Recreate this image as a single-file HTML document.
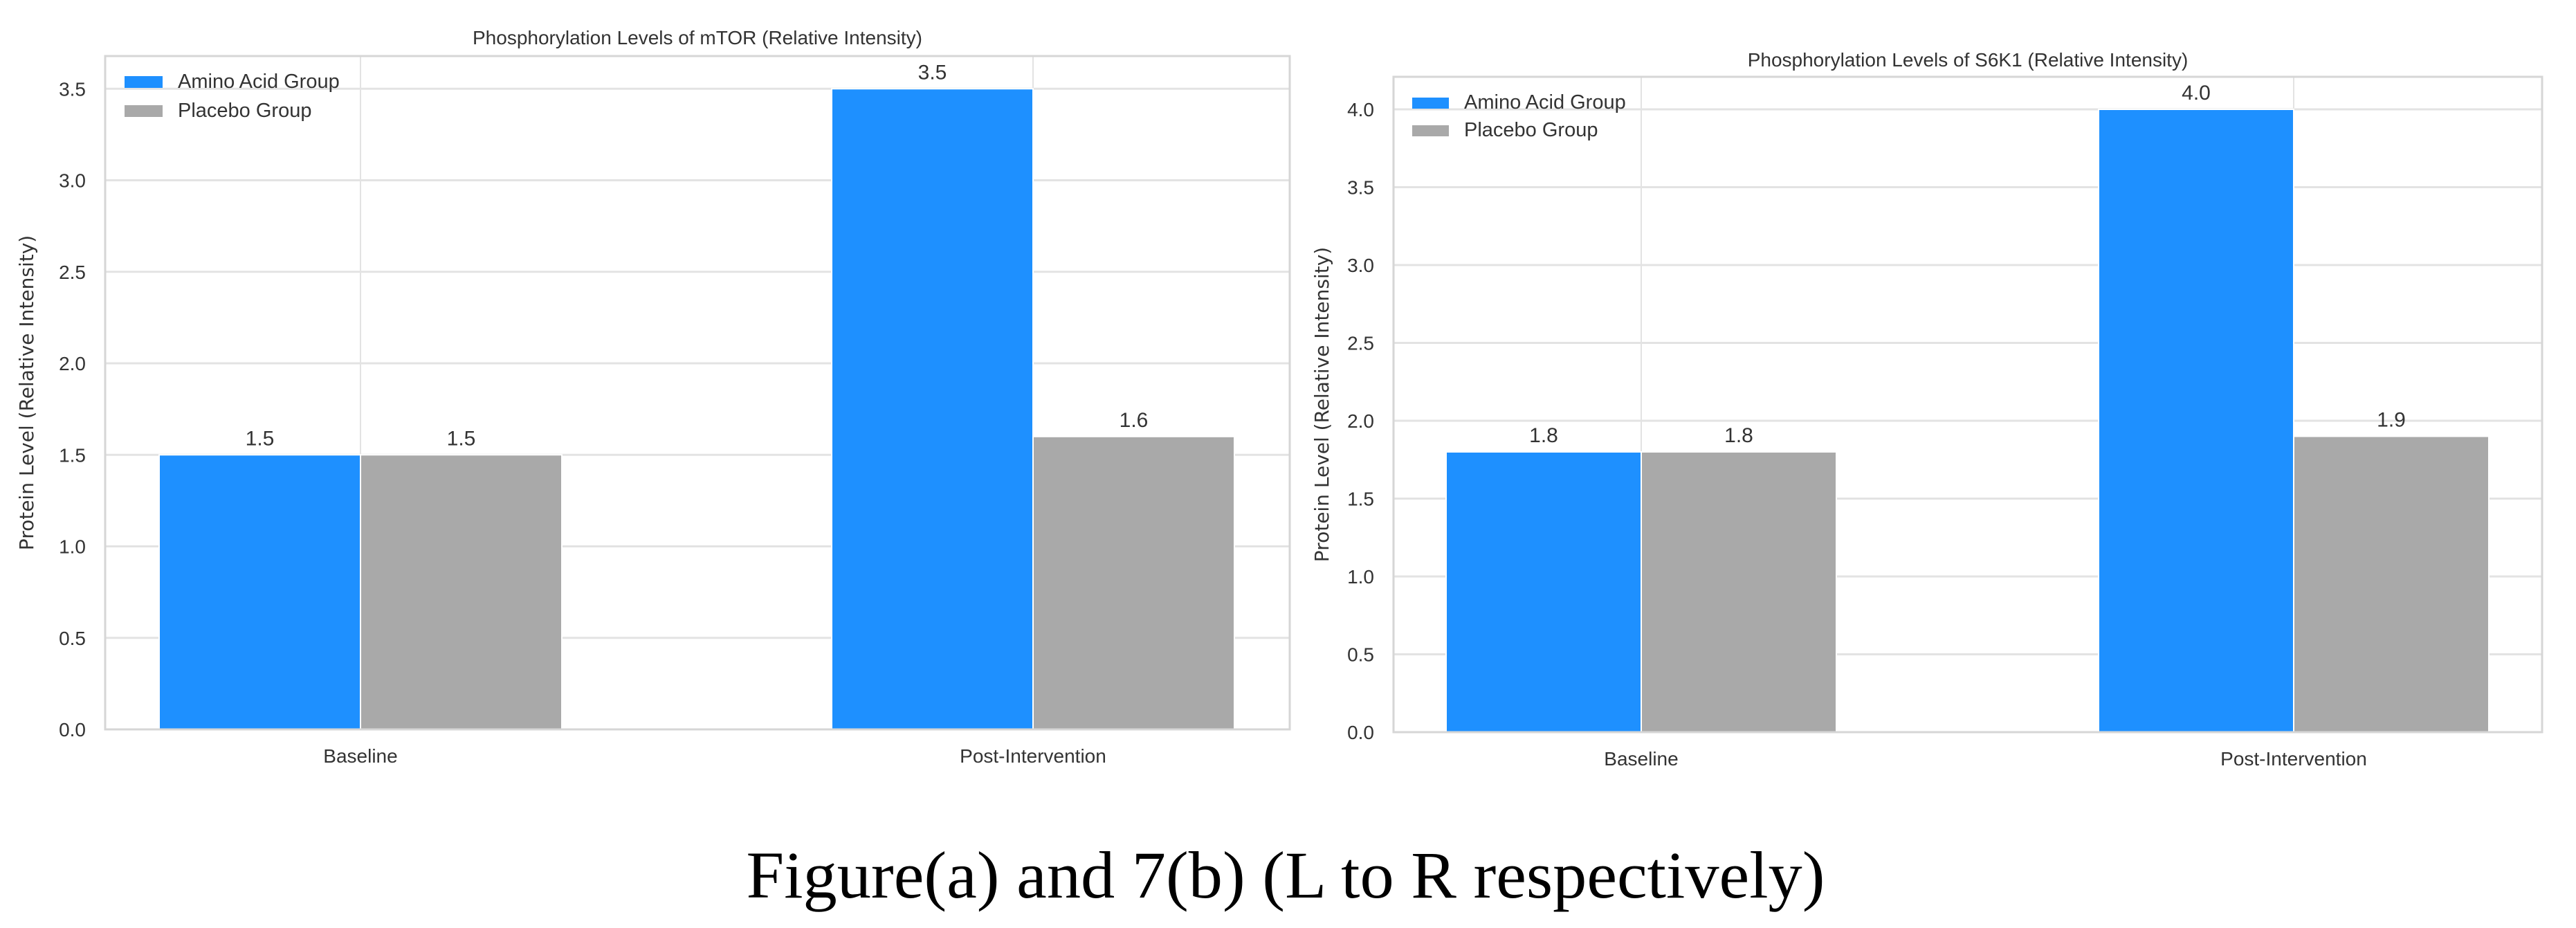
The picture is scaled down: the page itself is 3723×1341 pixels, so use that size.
<!DOCTYPE html>
<html><head><meta charset="utf-8"><style>
body{margin:0;background:#fff;}
svg{display:block;}
text{font-family:"Liberation Sans","DejaVu Sans",sans-serif;fill:#333;}
</style></head><body>
<svg id="fig" width="3723" height="1341" viewBox="0 0 3723 1341" xmlns="http://www.w3.org/2000/svg">
<text x="1858" y="1297" font-size="96" text-anchor="middle" textLength="1559" lengthAdjust="spacingAndGlyphs" style="font-family:'Liberation Serif',serif;fill:#000">Figure(a) and 7(b) (L to R respectively)</text>
</svg>
<script>
const categories = ["Baseline", "Post-Intervention"];
const seriesNames = ["Amino Acid Group", "Placebo Group"];
const mtorAmino = [1.5, 3.5];
const mtorPlacebo = [1.5, 1.6];
const s6k1Amino = [1.8, 4.0];
const s6k1Placebo = [1.8, 1.9];
const mtorTicks = [0.0, 0.5, 1.0, 1.5, 2.0, 2.5, 3.0, 3.5];
const s6k1Ticks = [0.0, 0.5, 1.0, 1.5, 2.0, 2.5, 3.0, 3.5, 4.0];
const colors = ["#1e90ff", "#a9a9a9"];

const NS = "http://www.w3.org/2000/svg";
const svg = document.getElementById('fig');
function mk(tag, attrs, parent) {
  const e = document.createElementNS(NS, tag);
  for (const k in attrs) e.setAttribute(k, attrs[k]);
  (parent || svg).appendChild(e);
  return e;
}

function chart(cfg, amino, placebo, ticks) {
  const g = mk('g', {});
  
  
  const {L, R, T, y0, unit, c0, c1, bw} = cfg;
  const y = v => y0 - v * unit;
  const centers = [c0, c1];
  const x = i => centers[i];
  // grid
  ticks.forEach(t => {
    const ln = mk('line', {x1: L, x2: R, y1: y(t), y2: y(t), stroke: '#e3e3e3', 'stroke-width': 3}, g);
    
    
    const tx = mk('text', {x: L - 28, y: y(t) + 10, 'font-size': 28, 'text-anchor': 'end'}, g);
    tx.textContent = t.toFixed(1);
    
    
  });
  categories.forEach((c, i) => {
    const ln = mk('line', {x1: x(i), x2: x(i), y1: T, y2: y0, stroke: '#e3e3e3', 'stroke-width': 2}, g);
    
    
    const tx = mk('text', {x: x(i), y: y0 + 48, 'font-size': 28, 'text-anchor': 'middle'}, g);
    tx.textContent = c;
    
    
  });
  // bars
  [amino, placebo].forEach((vals, s) => {
    vals.forEach((v, i) => {
      const bx = s === 0 ? x(i) - bw : x(i);
      const r = mk('rect', {x: bx, y: y(v), width: bw, height: y0 - y(v), fill: colors[s], stroke: '#fff', 'stroke-width': 2}, g);
      
      
      const lb = mk('text', {x: bx + bw / 2, y: y(v) - 14, 'font-size': 30, 'text-anchor': 'middle'}, g);
      lb.textContent = v.toFixed(1);
      
      
    });
  });
  // frame
  const fr = mk('rect', {x: L, y: T, width: R - L, height: y0 - T, fill: 'none', stroke: '#d6d6d6', 'stroke-width': 3}, g);
  
  
  // title
  const tt = mk('text', {x: (L + R) / 2, y: cfg.titleY, 'font-size': 28, 'text-anchor': 'middle'}, g);
  tt.textContent = cfg.title;
  
  
  // y label
  const yl = mk('text', {x: 0, y: 0, 'font-size': 28, 'text-anchor': 'middle', transform: `translate(${cfg.ylx},${(T + y0) / 2}) rotate(-90)`, style: "font-family:'DejaVu Sans',sans-serif;fill:#333"}, g);
  yl.textContent = 'Protein Level (Relative Intensity)';
  
  
  // legend
  seriesNames.forEach((n, s) => {
    const ly = cfg.legY + s * cfg.legGap;
    const p = mk('rect', {x: cfg.legX, y: ly, width: cfg.legW, height: cfg.legH, fill: colors[s]}, g);
    
    
    const t = mk('text', {x: cfg.legX + cfg.legW + 22, y: ly + cfg.legH, 'font-size': 29}, g);
    t.textContent = n;
    
    
  });
}

chart({name: 'mtor-chart', title: 'Phosphorylation Levels of mTOR (Relative Intensity)', L: 152, R: 1864, T: 81, y0: 1054, unit: 264.5, c0: 521, c1: 1493, bw: 291, titleY: 64, ylx: 48, legX: 180, legY: 110, legGap: 42, legW: 55, legH: 17}, mtorAmino, mtorPlacebo, mtorTicks);
chart({name: 's6k1-chart', title: 'Phosphorylation Levels of S6K1 (Relative Intensity)', L: 2014, R: 3674, T: 111, y0: 1058, unit: 225, c0: 2372, c1: 3315, bw: 282, titleY: 96, ylx: 1920, legX: 2041, legY: 141, legGap: 40, legW: 53, legH: 16}, s6k1Amino, s6k1Placebo, s6k1Ticks);
</script>
</body></html>
